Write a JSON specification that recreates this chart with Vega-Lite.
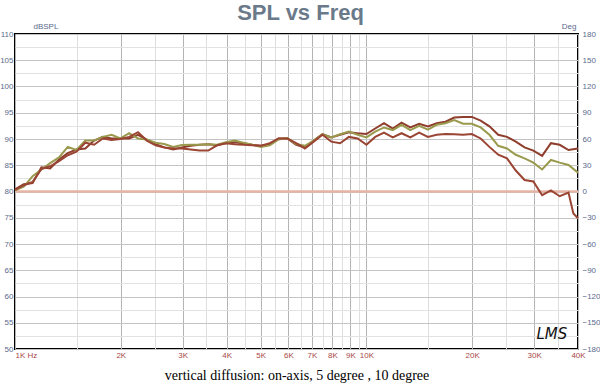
{
  "$schema": "https://vega.github.io/schema/vega-lite/v6.json",
  "width": 563,
  "height": 315,
  "autosize": "none",
  "padding": {"left": 15, "top": 34, "right": 22, "bottom": 37},
  "background": "#ffffff",
  "config": {"view": {"stroke": "#000000", "strokeWidth": 2}, "font": "Liberation Sans"},
  "title": {"text": "SPL vs Freq", "fontSize": 22, "font": "Liberation Sans", "fontWeight": "bold", "color": "#6b7a8a", "offset": -3, "anchor": "middle", "dx": 4},
  "datasets": {
    "spl": [
      {"f": 1000, "on_axis": 80.4, "deg5": 80.2, "deg10": 80.3},
      {"f": 1059, "on_axis": 81.4, "deg5": 80.9, "deg10": 81.2},
      {"f": 1122, "on_axis": 81.6, "deg5": 82.9, "deg10": 81.8},
      {"f": 1189, "on_axis": 84.6, "deg5": 84.2, "deg10": 84.3},
      {"f": 1259, "on_axis": 84.4, "deg5": 85.4, "deg10": 84.8},
      {"f": 1334, "on_axis": 86.1, "deg5": 86.5, "deg10": 85.8},
      {"f": 1413, "on_axis": 87.3, "deg5": 88.5, "deg10": 86.9},
      {"f": 1496, "on_axis": 88.0, "deg5": 87.9, "deg10": 87.6},
      {"f": 1585, "on_axis": 88.2, "deg5": 89.7, "deg10": 89.3},
      {"f": 1679, "on_axis": 89.7, "deg5": 89.7, "deg10": 88.9},
      {"f": 1778, "on_axis": 90.4, "deg5": 90.4, "deg10": 90.1},
      {"f": 1884, "on_axis": 90.1, "deg5": 90.8, "deg10": 89.8},
      {"f": 1995, "on_axis": 90.1, "deg5": 90.1, "deg10": 90.0},
      {"f": 2113, "on_axis": 90.1, "deg5": 91.1, "deg10": 90.4},
      {"f": 2239, "on_axis": 90.8, "deg5": 90.1, "deg10": 91.3},
      {"f": 2371, "on_axis": 89.9, "deg5": 89.9, "deg10": 89.7},
      {"f": 2512, "on_axis": 89.0, "deg5": 89.3, "deg10": 88.8},
      {"f": 2661, "on_axis": 88.4, "deg5": 89.05, "deg10": 88.4},
      {"f": 2818, "on_axis": 88.0, "deg5": 88.5, "deg10": 88.2},
      {"f": 2985, "on_axis": 88.4, "deg5": 88.86, "deg10": 88.2},
      {"f": 3162, "on_axis": 88.7, "deg5": 88.9, "deg10": 88.0},
      {"f": 3350, "on_axis": 88.9, "deg5": 88.9, "deg10": 87.8},
      {"f": 3548, "on_axis": 89.0, "deg5": 89.0, "deg10": 87.8},
      {"f": 3758, "on_axis": 88.8, "deg5": 88.9, "deg10": 88.8},
      {"f": 3981, "on_axis": 89.2, "deg5": 89.4, "deg10": 89.2},
      {"f": 4217, "on_axis": 89.4, "deg5": 89.7, "deg10": 89.0},
      {"f": 4467, "on_axis": 89.2, "deg5": 89.3, "deg10": 88.9},
      {"f": 4732, "on_axis": 88.9, "deg5": 88.9, "deg10": 88.8},
      {"f": 5012, "on_axis": 88.7, "deg5": 88.5, "deg10": 88.7},
      {"f": 5309, "on_axis": 88.9, "deg5": 88.8, "deg10": 89.2},
      {"f": 5623, "on_axis": 90.1, "deg5": 89.9, "deg10": 90.1},
      {"f": 5957, "on_axis": 90.1, "deg5": 90.2, "deg10": 90.1},
      {"f": 6310, "on_axis": 88.9, "deg5": 89.05, "deg10": 89.2},
      {"f": 6683, "on_axis": 88.4, "deg5": 88.7, "deg10": 88.2},
      {"f": 7079, "on_axis": 89.7, "deg5": 89.7, "deg10": 89.5},
      {"f": 7499, "on_axis": 90.95, "deg5": 90.95, "deg10": 90.8},
      {"f": 7943, "on_axis": 90.3, "deg5": 90.3, "deg10": 89.5},
      {"f": 8414, "on_axis": 90.8, "deg5": 90.9, "deg10": 89.2},
      {"f": 8913, "on_axis": 91.3, "deg5": 91.4, "deg10": 90.4},
      {"f": 9441, "on_axis": 91.1, "deg5": 90.8, "deg10": 90.1},
      {"f": 10000, "on_axis": 90.95, "deg5": 90.3, "deg10": 88.9},
      {"f": 10593, "on_axis": 92.0, "deg5": 91.4, "deg10": 90.4},
      {"f": 11220, "on_axis": 93.0, "deg5": 92.2, "deg10": 91.2},
      {"f": 11885, "on_axis": 92.0, "deg5": 91.7, "deg10": 90.3},
      {"f": 12589, "on_axis": 93.1, "deg5": 92.7, "deg10": 91.1},
      {"f": 13335, "on_axis": 92.2, "deg5": 91.7, "deg10": 90.3},
      {"f": 14125, "on_axis": 92.9, "deg5": 92.5, "deg10": 91.2},
      {"f": 14962, "on_axis": 92.4, "deg5": 91.8, "deg10": 90.4},
      {"f": 15849, "on_axis": 93.0, "deg5": 92.7, "deg10": 90.8},
      {"f": 16788, "on_axis": 93.3, "deg5": 93.0, "deg10": 90.95},
      {"f": 17783, "on_axis": 94.1, "deg5": 93.6, "deg10": 90.9},
      {"f": 18836, "on_axis": 94.2, "deg5": 92.9, "deg10": 90.8},
      {"f": 19953, "on_axis": 94.2, "deg5": 92.9, "deg10": 90.95},
      {"f": 21135, "on_axis": 93.5, "deg5": 92.2, "deg10": 90.1},
      {"f": 22387, "on_axis": 92.4, "deg5": 90.8, "deg10": 88.5},
      {"f": 23714, "on_axis": 90.8, "deg5": 88.7, "deg10": 87.0},
      {"f": 25119, "on_axis": 90.4, "deg5": 88.2, "deg10": 86.3},
      {"f": 26607, "on_axis": 89.5, "deg5": 87.0, "deg10": 84.0},
      {"f": 28184, "on_axis": 88.4, "deg5": 86.3, "deg10": 82.2},
      {"f": 29854, "on_axis": 87.8, "deg5": 85.5, "deg10": 81.9},
      {"f": 31623, "on_axis": 86.8, "deg5": 84.2, "deg10": 79.3},
      {"f": 33497, "on_axis": 89.2, "deg5": 86.0, "deg10": 80.2},
      {"f": 35481, "on_axis": 88.9, "deg5": 85.5, "deg10": 79.1},
      {"f": 37584, "on_axis": 87.9, "deg5": 85.05, "deg10": 79.8},
      {"f": 38800, "deg10": 75.8},
      {"f": 40000, "on_axis": 88.2, "deg5": 83.6, "deg10": 74.9}
    ],
    "phase": [{"f": 1000, "deg": 0}, {"f": 40000, "deg": 0}],
    "logo": [{"f": 33700, "spl": 52.9, "t": "LMS"}]
  },
  "encoding": {
    "x": {
      "field": "f", "type": "quantitative",
      "scale": {"type": "log", "domain": [1000, 40000], "nice": false},
      "axis": {
        "values": [1000, 1500, 2000, 2500, 3000, 3500, 4000, 4500, 5000, 5500, 6000, 6500, 7000, 7500, 8000, 8500, 9000, 9500, 10000, 15000, 20000, 25000, 30000, 35000, 40000],
        "labelExpr": "datum.value == 1000 ? '1K  Hz' : (datum.value <= 10000 ? (datum.value % 1000 == 0 ? (datum.value / 1000) + 'K' : '') : (datum.value % 10000 == 0 ? (datum.value / 1000) + 'K' : ''))",
        "labelAlign": {"condition": {"test": "datum.value == 1000", "value": "left"}, "value": "center"},
        "labelColor": "#a84848", "labelFontSize": 8, "labelPadding": 2, "labelOverlap": false, "labelFlush": false, "labelBound": false,
        "ticks": false, "domain": false,
        "grid": true,
        "gridColor": {"condition": {"test": "datum.value <= 10000 ? datum.value % 1000 == 0 : datum.value % 10000 == 0", "value": "#b4b4b4"}, "value": "#dedede"},
        "gridWidth": 1,
        "title": "vertical diffusion: on-axis, 5 degree , 10 degree",
        "titleFont": "Liberation Serif", "titleFontSize": 14, "titleFontWeight": "normal", "titleColor": "#000000", "titlePadding": 9
      }
    }
  },
  "layer": [
    {
      "data": {"name": "phase"},
      "mark": {"type": "line", "color": "#e6b4a4", "strokeWidth": 2.5},
      "encoding": {
        "y": {
          "field": "deg", "type": "quantitative",
          "scale": {"domain": [-180, 180], "nice": false, "zero": false},
          "axis": {
            "orient": "right",
            "values": [-180, -150, -120, -90, -60, -30, 0, 30, 60, 90, 120, 150, 180],
            "grid": false, "ticks": false, "domain": false,
            "labelColor": "#5a6a8c", "labelFontSize": 8, "labelPadding": 4,
            "title": "Deg", "titleAngle": 0, "titleFontSize": 8, "titleFontWeight": "normal", "titleColor": "#5a6a8c",
            "titleX": -2, "titleY": -4, "titleAlign": "right", "titleBaseline": "bottom"
          }
        }
      }
    },
    {
      "encoding": {
        "y": {
          "field": "spl", "type": "quantitative",
          "scale": {"domain": [50, 110], "nice": false, "zero": false},
          "axis": {
            "orient": "left",
            "values": [50, 52.5, 55, 57.5, 60, 62.5, 65, 67.5, 70, 72.5, 75, 77.5, 80, 82.5, 85, 87.5, 90, 92.5, 95, 97.5, 100, 102.5, 105, 107.5, 110],
            "labelExpr": "datum.value % 5 == 0 ? datum.value : ''",
            "labelColor": "#5a6a8c", "labelFontSize": 8, "labelPadding": 2, "labelOverlap": false,
            "ticks": false, "domain": false,
            "grid": true,
            "gridColor": {"condition": {"test": "datum.value % 5 == 0", "value": "#c4c4c4"}, "value": "#e2e2e2"},
            "title": "dBSPL", "titleAngle": 0, "titleFontSize": 8, "titleFontWeight": "normal", "titleColor": "#5a6a8c",
            "titleX": 18, "titleY": -4, "titleAlign": "left", "titleBaseline": "bottom"
          }
        }
      },
      "layer": [
        {
          "data": {"name": "spl"},
          "transform": [
            {"fold": ["on_axis", "deg5", "deg10"], "as": ["series", "spl"]},
            {"filter": "isValid(datum.spl)"}
          ],
          "mark": {"type": "line", "strokeWidth": 2},
          "encoding": {
            "color": {
              "field": "series", "type": "nominal",
              "scale": {"domain": ["on_axis", "deg5", "deg10"], "range": ["#8f3d2c", "#9a9a4e", "#9a4433"]},
              "legend": null
            }
          }
        },
        {
          "data": {"name": "logo"},
          "mark": {"type": "text", "font": "DejaVu Sans", "fontStyle": "italic", "fontSize": 15, "color": "#111111"},
          "encoding": {
            "text": {"field": "t"}
          }
        }
      ]
    }
  ],
  "resolve": {"scale": {"y": "independent"}, "axis": {"y": "independent"}}
}
